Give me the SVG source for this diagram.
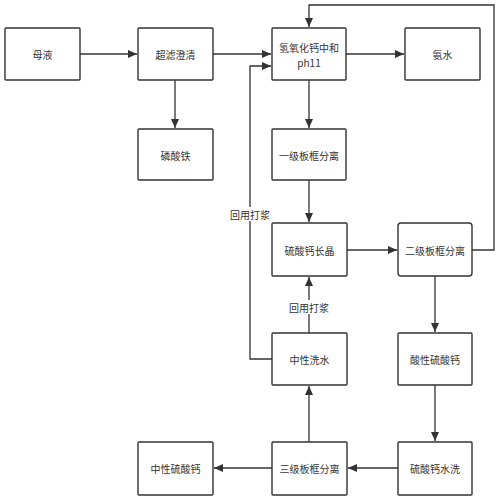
<svg xmlns="http://www.w3.org/2000/svg" width="500" height="500" viewBox="0 0 500 500">
<defs>
<marker id="arr" markerWidth="10" markerHeight="8" refX="9" refY="4" orient="auto" markerUnits="userSpaceOnUse">
<path d="M0,0 L9,4 L0,8 Z" fill="#333"/>
</marker>
<style>
.box{fill:#fff;stroke:#333;stroke-width:1.4}
.t{font-family:"Noto Sans CJK SC","Noto Sans",sans-serif;font-size:10px;fill:#333;text-anchor:middle;dominant-baseline:central}
.c{fill:none;stroke:#333;stroke-width:1.3;marker-end:url(#arr)}
.cl{fill:none;stroke:#333;stroke-width:1.3}
.lb{fill:#fff}
</style>
</defs>
<rect width="500" height="500" fill="#fff"/>
<g id="connectors">
<path class="c" d="M80,54 H137"/>
<path class="c" d="M213,54 H271"/>
<path class="c" d="M346,54 H404"/>
<path class="c" d="M175,80 V128"/>
<path class="c" d="M309,80 V128"/>
<path class="c" d="M309,180 V222"/>
<path class="c" d="M347,250 H397"/>
<path class="c" d="M472,250 H494 V5 H309 V27"/>
<path class="c" d="M435,276 V332"/>
<path class="c" d="M435,385 V441"/>
<path class="c" d="M398,468 H348"/>
<path class="c" d="M272,468 H214"/>
<path class="c" d="M309,442 V386"/>
<path class="c" d="M309,333 V277"/>
<path class="c" d="M272,359 H250 V66 H271"/>
<rect class="lb" x="288" y="300" width="42" height="14"/>
<text class="t" x="309" y="307">回用打浆</text>
<rect class="lb" x="229" y="207" width="42" height="14"/>
<text class="t" x="250" y="214">回用打浆</text>
</g>
<g id="n1"><rect class="box" x="5" y="28" width="75" height="52" rx="1"/><text class="t" x="42.5" y="54">母液</text></g>
<g id="n2"><rect class="box" x="138" y="28" width="75" height="52" rx="1"/><text class="t" x="175.5" y="54">超滤澄清</text></g>
<g id="n3"><rect class="box" x="272" y="28" width="74" height="52" rx="1"/><text class="t" x="309" y="47">氢氧化钙中和</text><text class="t" x="309" y="62">ph11</text></g>
<g id="n4"><rect class="box" x="405" y="28" width="75" height="52" rx="1"/><text class="t" x="442.5" y="54">氨水</text></g>
<g id="n5"><rect class="box" x="138" y="129" width="75" height="51" rx="1"/><text class="t" x="175.5" y="155">磷酸铁</text></g>
<g id="n6"><rect class="box" x="272" y="129" width="74" height="51" rx="1"/><text class="t" x="309" y="155">一级板框分离</text></g>
<g id="n7"><rect class="box" x="272" y="223" width="75" height="53" rx="1"/><text class="t" x="309.5" y="250">硫酸钙长晶</text></g>
<g id="n8"><rect class="box" x="398" y="223" width="74" height="53" rx="3"/><text class="t" x="435" y="250">二级板框分离</text></g>
<g id="n9"><rect class="box" x="272" y="333" width="75" height="52" rx="1"/><text class="t" x="309.5" y="359">中性洗水</text></g>
<g id="n10"><rect class="box" x="398" y="333" width="74" height="52" rx="1"/><text class="t" x="435" y="359">酸性硫酸钙</text></g>
<g id="n11"><rect class="box" x="138" y="442" width="75" height="53" rx="1"/><text class="t" x="175.5" y="468">中性硫酸钙</text></g>
<g id="n12"><rect class="box" x="272" y="442" width="75" height="53" rx="1"/><text class="t" x="309.5" y="468">三级板框分离</text></g>
<g id="n13"><rect class="box" x="398" y="442" width="74" height="53" rx="1"/><text class="t" x="435" y="468">硫酸钙水洗</text></g>
</svg>
